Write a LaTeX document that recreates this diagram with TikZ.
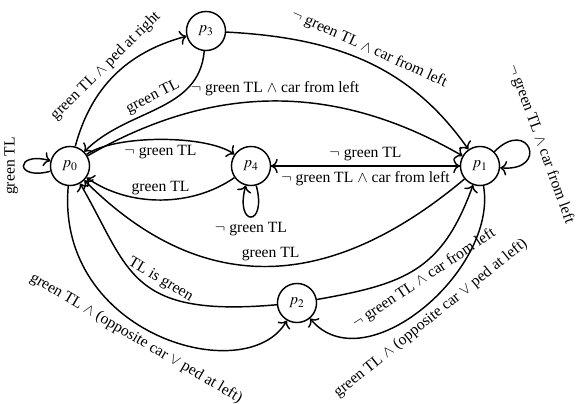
\documentclass[tikz,border=0pt]{standalone}
\usepackage{mathptmx}
\usepackage{fontspec}
\setmainfont{Liberation Serif}
\usetikzlibrary{arrows.meta}
\begin{document}
\begin{tikzpicture}[x=0.6908pt,y=0.6908pt,
  font=\fontsize{10.8pt}{13pt}\selectfont,
  state/.style={circle,draw,line width=1pt,minimum size=27pt,inner sep=0pt},
  tr/.style={->,line width=1pt},
  >={To[length=4.5pt,width=10pt]},
  every loop/.style={min distance=9mm}]
\useasboundingbox (0,0) rectangle (579,404);
\node[state] (p0) at (70,238) {$p_0$};
\node[state] (p3) at (206,373) {$p_3$};
\node[state] (p4) at (251,238) {$p_4$};
\node[state] (p1) at (480,238) {$p_1$};
\node[state] (p2) at (297,101) {$p_2$};

\draw[tr] (p0) to[loop left] node[sloped,above] {green TL} (p0);
\draw[tr] (p0) to[out=75,in=195] node[sloped,above] {green TL $\wedge$ ped at right} (p3);
\draw[tr] (p3) to[out=265,in=45] node[sloped,above] {green TL} (p0);
\draw[tr] (p3) to[out=-3,in=125] node[sloped,above] {$\neg$ green TL $\wedge$ car from left} (p1);
\draw[tr] (p0) to[out=30,in=150] node[above] {$\neg$ green TL $\wedge$ car from left} (p1);
\draw[tr] (p0) to[out=35,in=145,looseness=0.6] node[below] {$\neg$ green TL} (p4);
\draw[tr] (p4) to[out=215,in=-35,looseness=0.9] node[above] {green TL} (p0);
\draw[tr] (p4) to[loop below,min distance=10.5mm] node[below] {$\neg$ green TL} (p4);
\draw[tr] (p4) to node[above] {$\neg$ green TL} (p1);
\draw[tr] (p1) to node[below] {$\neg$ green TL $\wedge$ car from left} (p4);
\draw[tr] (p1) to[loop,out=45,in=-5,min distance=12mm] node[sloped,above] {$\neg$ green TL $\wedge$ car from left} (p1);
\draw[tr] (p1) to[out=220,in=-45,looseness=1.15] node[above] {green TL} (p0);
\draw[tr] (p2) to[out=185,in=-60,out distance=103pt,in distance=69pt] node[pos=0.42,sloped,above] {TL is green} (p0);
\draw[tr] (p2) to[out=10,in=250,looseness=1.2] node[sloped,below] {$\neg$ green TL $\wedge$ car from left} (p1);
\draw[tr] (p0) to[out=265,in=240,out distance=103.6pt,in distance=55pt] node[pos=0.45,sloped,below] {green TL $\wedge$ (opposite car $\vee$ ped at left)} (p2);
\draw[tr] (p1) to[out=-80,in=-50] node[sloped,below] {green TL $\wedge$ (opposite car $\vee$ ped at left)} (p2);
\end{tikzpicture}
\end{document}
